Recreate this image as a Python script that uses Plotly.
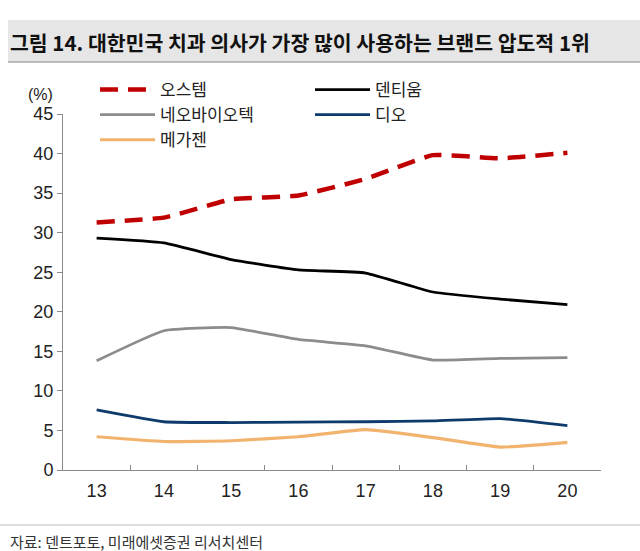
import plotly.graph_objects as go

years = ["13", "14", "15", "16", "17", "18", "19", "20"]
osstem = [31.3, 31.9, 34.2, 34.7, 36.8, 39.8, 39.4, 40.1]
dentium = [29.3, 28.7, 26.6, 25.3, 24.9, 22.5, 21.6, 20.9]
neo = [13.8, 17.6, 18.0, 16.5, 15.7, 13.9, 14.1, 14.2]
dio = [7.6, 6.1, 6.0, 6.05, 6.1, 6.2, 6.5, 5.6]
megagen = [4.2, 3.6, 3.7, 4.2, 5.1, 4.1, 2.9, 3.5]

title_text = "그림 14. 대한민국 치과 의사가 가장 많이 사용하는 브랜드 압도적 1위"
source_text = "자료: 덴트포토, 미래에셋증권 리서치센터"

FONT = "Liberation Sans, Noto Sans CJK KR, sans-serif"
KFONT = "Noto Sans CJK KR, sans-serif"

W, H = 640, 551
L, R, T, B = 63, 39, 114, 81
pw = W - L - R
ph = H - T - B

def px(x):
    return (x - L) / pw

def py(y):
    return (H - B - y) / ph

fig = go.Figure()

fig.add_trace(go.Scatter(x=years, y=osstem, name="오스템", mode="lines",
                         line=dict(color="#C00000", width=4.5, dash="18px,10px", shape="spline", smoothing=0.4),
                         legend="legend"))
fig.add_trace(go.Scatter(x=years, y=neo, name="네오바이오텍", mode="lines",
                         line=dict(color="#8C8C8C", width=2.8, shape="spline", smoothing=0.4),
                         legend="legend"))
fig.add_trace(go.Scatter(x=years, y=megagen, name="메가젠", mode="lines",
                         line=dict(color="#F2B36E", width=3.2, shape="spline", smoothing=0.4),
                         legend="legend"))
fig.add_trace(go.Scatter(x=years, y=dentium, name="덴티움", mode="lines",
                         line=dict(color="#000000", width=2.8, shape="spline", smoothing=0.4),
                         legend="legend2"))
fig.add_trace(go.Scatter(x=years, y=dio, name="디오", mode="lines",
                         line=dict(color="#0E3A6C", width=2.8, shape="spline", smoothing=0.4),
                         legend="legend2"))

legend_common = dict(
    font=dict(family=KFONT, size=17, color="#222222"),
    bgcolor="rgba(0,0,0,0)", yanchor="top", xanchor="left",
    tracegroupgap=0, itemwidth=55, traceorder="normal",
)

fig.update_layout(
    width=W, height=H,
    margin=dict(l=L, r=R, t=T, b=B),
    paper_bgcolor="white", plot_bgcolor="white",
    showlegend=True,
    legend=dict(x=px(95), y=py(72), **legend_common),
    legend2=dict(x=px(310), y=py(72), **legend_common),
    xaxis=dict(
        type="category", tickson="boundaries", ticks="inside", ticklen=5,
        tickcolor="#8A8A8A", showline=True, linecolor="#8A8A8A", linewidth=1,
        showgrid=False, zeroline=False, ticklabelstandoff=4,
        tickfont=dict(family=FONT, size=18, color="#222222"),
        range=[-0.5, 7.5],
    ),
    yaxis=dict(
        range=[0, 45], dtick=5, ticks="outside", ticklen=5,
        tickcolor="#8A8A8A", showline=True, linecolor="#8A8A8A", linewidth=1,
        showgrid=False, zeroline=False,
        tickfont=dict(family=FONT, size=18, color="#222222"),
    ),
    shapes=[
        dict(type="rect", xref="paper", yref="paper",
             x0=px(8), x1=px(640), y0=py(62), y1=py(20),
             fillcolor="#E6E6E6", line=dict(width=0), layer="below"),
        dict(type="line", xref="paper", yref="paper",
             x0=px(8), x1=px(640), y0=py(62), y1=py(62),
             line=dict(color="#A8A8A8", width=1.5)),
        dict(type="line", xref="paper", yref="paper",
             x0=px(0), x1=px(640), y0=py(525), y1=py(525),
             line=dict(color="#BBBBBB", width=1)),
    ],
    annotations=[
        dict(text="<b>" + title_text + "</b>", xref="paper", yref="paper",
             x=px(8), y=py(42), xanchor="left", yanchor="middle", showarrow=False,
             font=dict(family=KFONT, size=20.5, color="#111111")),
        dict(text="(%)", xref="paper", yref="paper",
             x=px(40), y=py(94), xanchor="center", yanchor="middle", showarrow=False,
             font=dict(family=FONT, size=16, color="#222222")),
        dict(text=source_text, xref="paper", yref="paper",
             x=px(8), y=py(541), xanchor="left", yanchor="middle", showarrow=False,
             font=dict(family=KFONT, size=15, color="#333333")),
    ],
)

fig.write_html("out.html", config={"displayModeBar": False},
               post_script="document.body.style.margin='0px';")
